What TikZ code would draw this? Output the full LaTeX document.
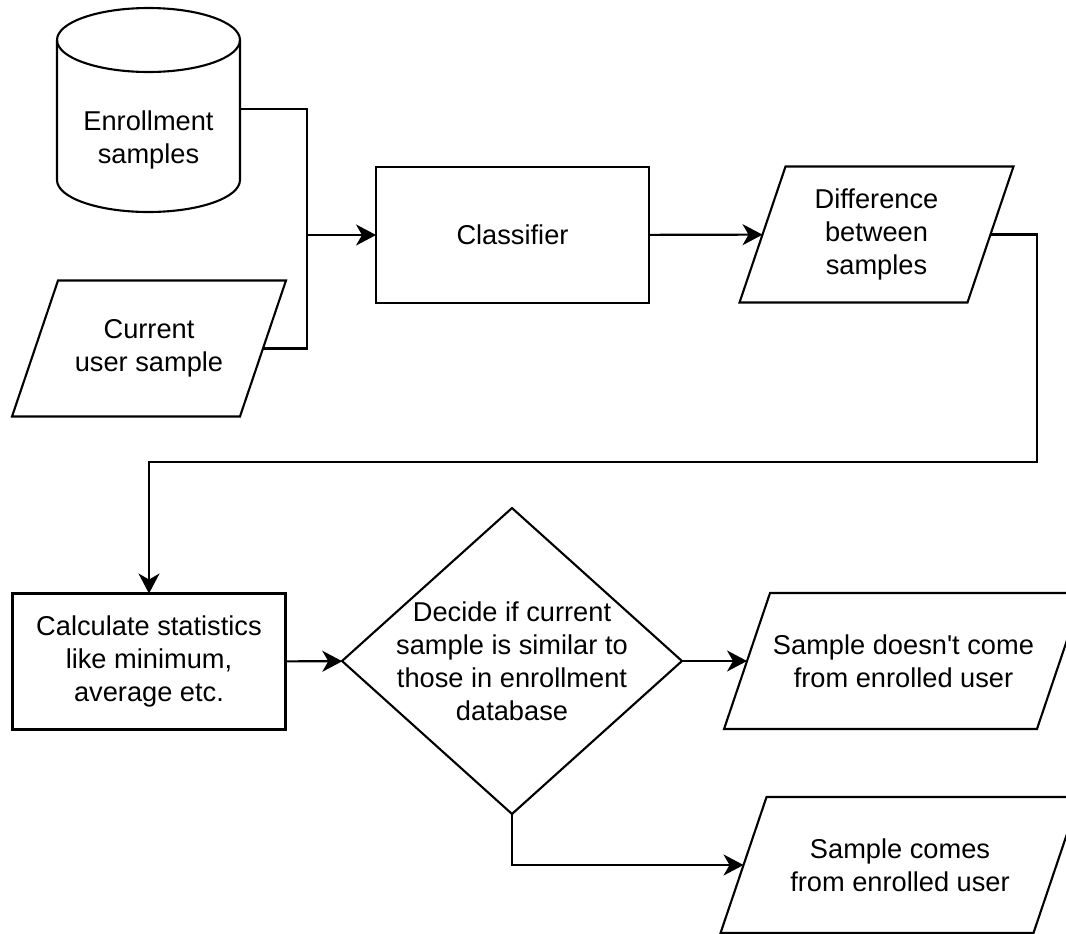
\documentclass[tikz,border=0pt]{standalone}
\usepackage{fontspec}
\setmainfont{Liberation Sans}
\usetikzlibrary{arrows.meta,shapes.geometric}

% slanted outline round a plain node (data box)
\newcommand\slanted[1]{%
  \draw ([xshift=0.46cm]#1.north west) -- ([xshift=0.46cm]#1.north east)
     -- ([xshift=-0.46cm]#1.south east) -- ([xshift=-0.46cm]#1.south west)
     -- cycle;}

\begin{document}
\begin{tikzpicture}[x=0.02cm, y=-0.02cm, line width=1.2pt,
    every node/.style={font=\fontsize{15.5}{18.8}\selectfont,
                       align=center, outer sep=0pt},
    box/.style={draw, rectangle, minimum width=5.46cm,
                minimum height=2.72cm},
    io/.style={rectangle, minimum width=4.56cm, minimum height=2.72cm},
    dec/.style={draw, diamond, minimum width=6.8cm,
                minimum height=6.12cm, inner sep=0pt},
    arr/.style={-{Stealth[length=0.4cm, width=0.42cm, inset=0.12cm]}}]
  \path[use as bounding box, clip] (0,0) rectangle (1066,934);

  % database of enrollment samples
  \draw (57,40) -- (57,180)
        arc[start angle=180, end angle=360, x radius=1.83cm,
            y radius=0.64cm] -- (240,40);
  \draw (148.5,40) ellipse [x radius=1.83cm, y radius=0.64cm];
  \node (enroll) at (148.5,140) {Enrollment\\samples};
  \coordinate (enrollR) at (240,109);

  \node[io] (user) at (149,348.5) {Current\\user sample};
  \slanted{user}
  \node[box] (clf) at (512.5,235) {Classifier};
  \node[io] (diff) at (876.5,234.5) {Difference\\between\\samples};
  \slanted{diff}
  \node[box] (stats) at (149,661.5)
        {Calculate statistics\\like minimum,\\average etc.};
  \node[dec, label={[align=center]center:Decide if current\\
        sample is similar to\\those in enrollment\\database}]
        (decide) at (512,661) {};
  \node[io, minimum width=6.26cm] (nocome) at (903.5,661)
        {Sample doesn\textquotesingle t come\\from enrolled user};
  \slanted{nocome}
  \node[io, minimum width=6.26cm] (comes) at (900,865)
        {Sample comes\\from enrolled user};
  \slanted{comes}

  % connectors
  \coordinate (join) at (307,235);
  \coordinate (turn) at (1037,462);
  \draw (enrollR) -| (join);
  \draw (user.east) -| (join);
  \draw[arr] (join) -- (clf.west);
  \draw[arr] (clf) -- (diff);
  \draw[arr] (diff.east) -| (turn) -| (stats.north);
  \draw[arr] (stats) -- (decide);
  \draw[arr] (decide) -- (nocome);
  \draw[arr] (decide.south) |- (comes.west);
\end{tikzpicture}
\end{document}
